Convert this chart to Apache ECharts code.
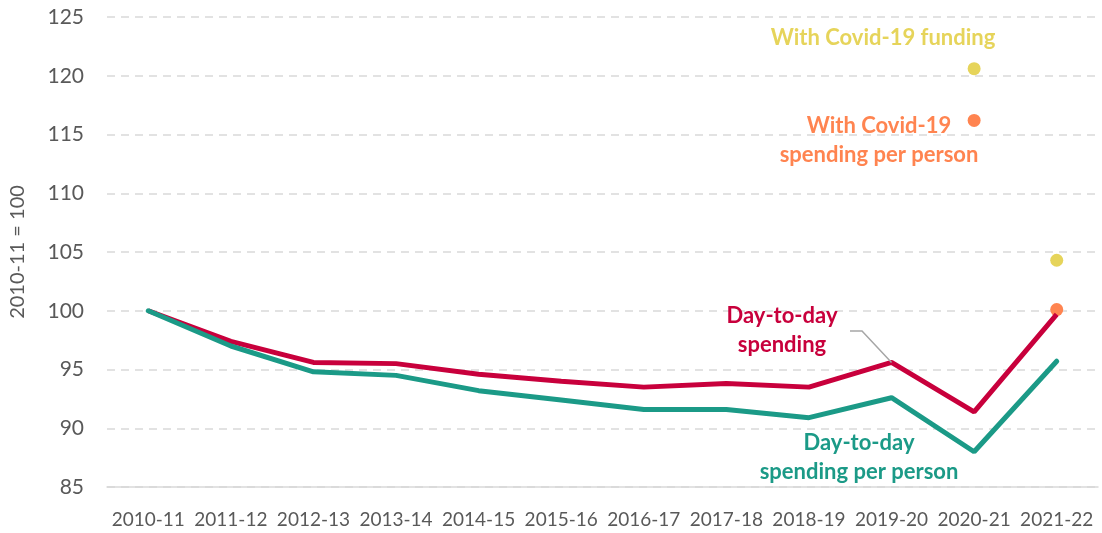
<!DOCTYPE html>
<html>
<head>
<meta charset="utf-8">
<script src="https://cdn.jsdelivr.net/npm/echarts@6/dist/echarts.min.js"></script>
<style>
  html, body { margin: 0; padding: 0; background: #fff; }
  #chart { width: 1102px; height: 533px; }
</style>
</head>
<body>
<div id="chart"></div>
<script>
// financial years
const years = ['2010-11', '2011-12', '2012-13', '2013-14', '2014-15', '2015-16',
  '2016-17', '2017-18', '2018-19', '2019-20', '2020-21', '2021-22']
// day-to-day spending, 2010-11 = 100
const spending = [100, 97.4, 95.6, 95.5, 94.6, 94.0, 93.5, 93.8, 93.5, 95.6, 91.4, 99.7]
// day-to-day spending per person
const perPerson = [100, 97.0, 94.8, 94.5, 93.2, 92.4, 91.6, 91.6, 90.9, 92.6, 88.0, 95.7]
// with Covid-19 funding
const covidFunding = [null, null, null, null, null, null, null, null, null, null, 120.6, 104.3]
// with Covid-19 spending per person
const covidPerPerson = [null, null, null, null, null, null, null, null, null, null, 116.2, 100.1]
const yTicks = [85, 90, 95, 100, 105, 110, 115, 120, 125]

const RED = '#C8003C'
const TEAL = '#1B9A87'
const ORANGE = '#FF8450'
const YELLOW = '#E6D45A'
const FONT = 'Lato'

const chart = echarts.init(document.getElementById('chart'))

chart.setOption({
  animation: false,
  textStyle: { fontFamily: FONT },
  grid: { left: 98, right: 4, top: 17, bottom: 46 },
  xAxis: {
    type: 'category',
    data: years,
    boundaryGap: true,
    axisTick: { show: false },
    axisLine: { lineStyle: { color: '#D9D9D9', width: 1.5 } },
    axisLabel: { color: '#595959', fontSize: 19, margin: 23, fontFamily: FONT, interval: 0 }
  },
  yAxis: {
    type: 'value',
    min: yTicks[0],
    max: yTicks[yTicks.length - 1],
    interval: 5,
    name: '2010-11 = 100',
    nameLocation: 'middle',
    nameRotate: 90,
    nameGap: 79,
    nameTextStyle: { color: '#595959', fontSize: 20, fontFamily: FONT },
    axisLine: { show: false },
    axisTick: { show: false },
    axisLabel: { color: '#595959', fontSize: 21, margin: 23, fontFamily: FONT },
    splitLine: { lineStyle: { color: '#D9D9D9', type: [8, 6], width: 1.5 } }
  },
  series: [
    {
      name: 'Day-to-day spending',
      type: 'line',
      data: spending,
      symbol: 'none',
      lineStyle: { color: RED, width: 5 }
    },
    {
      name: 'Day-to-day spending per person',
      type: 'line',
      data: perPerson,
      symbol: 'none',
      lineStyle: { color: TEAL, width: 5, cap: 'round' }
    },
    {
      name: 'With Covid-19 funding',
      type: 'scatter',
      data: covidFunding,
      symbolSize: 13,
      itemStyle: { color: YELLOW, opacity: 1 }
    },
    {
      name: 'With Covid-19 spending per person',
      type: 'scatter',
      data: covidPerPerson,
      symbolSize: 13,
      itemStyle: { color: ORANGE, opacity: 1 }
    }
  ]
})

// annotation labels and leader line
const peak = chart.convertToPixel({ seriesIndex: 0 }, [9, spending[9]])
const labelStyle = (text, color, x, y) => ({
  type: 'text',
  x: x,
  y: y,
  z: 10,
  style: {
    text: text,
    fill: color,
    font: 'bold 22px ' + FONT,
    align: 'center',
    verticalAlign: 'middle',
    lineHeight: 29
  }
})

chart.setOption({
  graphic: [
    labelStyle('With Covid-19 funding', YELLOW, 883, 38),
    labelStyle('With Covid-19\nspending per person', ORANGE, 879, 140),
    labelStyle('Day-to-day\nspending', RED, 782, 330),
    labelStyle('Day-to-day\nspending per person', TEAL, 859, 457),
    {
      type: 'polyline',
      z: 5,
      shape: { points: [[850, 331], [862, 331], [peak[0], peak[1]]] },
      style: { stroke: '#A6A6A6', lineWidth: 1.5, fill: null }
    }
  ]
})
</script>
</body>
</html>
